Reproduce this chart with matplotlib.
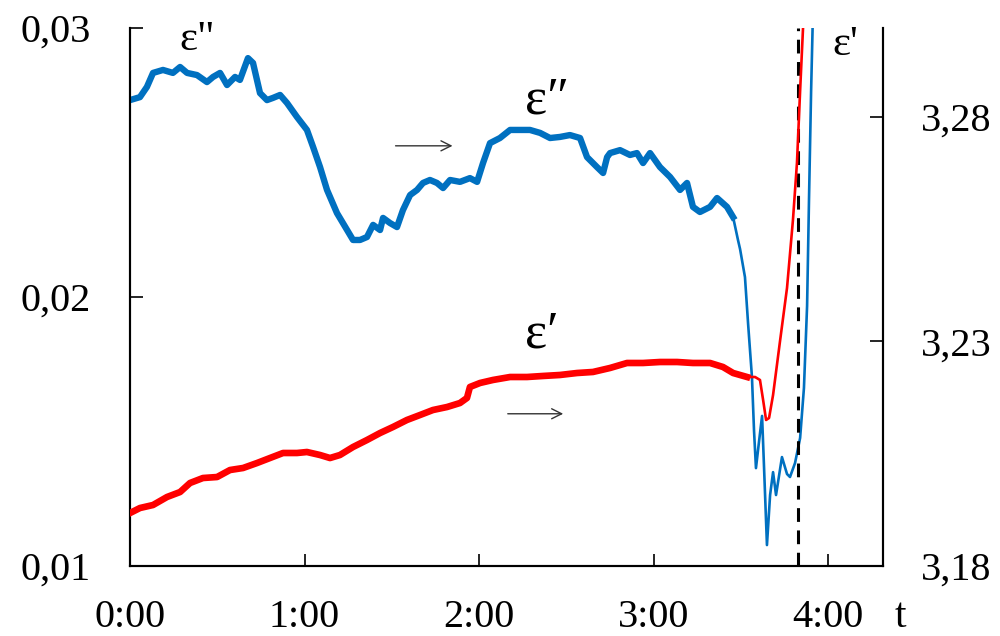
import matplotlib
matplotlib.use("Agg")
import matplotlib.pyplot as plt
import numpy as np

plt.rcParams['font.family'] = ['Liberation Serif', 'DejaVu Serif']

# time in hours
t_loss = [0.000, 0.057, 0.097, 0.132, 0.189, 0.246, 0.287, 0.327, 0.384, 0.441,
          0.476, 0.516, 0.556, 0.602, 0.630, 0.676, 0.705, 0.745, 0.785, 0.819,
          0.860, 0.900, 0.957, 1.014, 1.049, 1.089, 1.129, 1.186, 1.244, 1.278,
          1.318, 1.358, 1.393, 1.433, 1.450, 1.490, 1.530, 1.564, 1.605, 1.645,
          1.679, 1.719, 1.759, 1.794, 1.834, 1.891, 1.948, 1.989, 2.023, 2.063,
          2.120, 2.178, 2.235, 2.292, 2.350, 2.407, 2.464, 2.521, 2.579, 2.619,
          2.676, 2.711, 2.734, 2.751, 2.808, 2.865, 2.905, 2.940, 2.980, 3.037,
          3.095, 3.152, 3.192, 3.226, 3.266, 3.324, 3.364, 3.421, 3.456, 3.484,
          3.496, 3.524, 3.542, 3.564, 3.576, 3.587, 3.605, 3.622, 3.633, 3.650,
          3.668, 3.685, 3.702, 3.736, 3.765, 3.782, 3.811, 3.840, 3.862, 3.880,
          3.891, 3.903, 3.914]
eps_loss = [0.02732, 0.02743, 0.02781, 0.02833, 0.02844, 0.02833, 0.02855, 0.02833, 0.02825, 0.02799,
            0.02818, 0.02833, 0.02788, 0.02818, 0.02807, 0.02888, 0.02870, 0.02758, 0.02732, 0.02740,
            0.02751, 0.02721, 0.02669, 0.02621, 0.02558, 0.02483, 0.02398, 0.02312, 0.02249, 0.02212,
            0.02212, 0.02223, 0.02268, 0.02249, 0.02294, 0.02275, 0.02260, 0.02323, 0.02379, 0.02398,
            0.02424, 0.02435, 0.02424, 0.02405, 0.02435, 0.02428, 0.02442, 0.02428, 0.02498, 0.02572,
            0.02591, 0.02621, 0.02621, 0.02621, 0.02610, 0.02591, 0.02595, 0.02602, 0.02591, 0.02520,
            0.02483, 0.02461, 0.02520, 0.02535, 0.02546, 0.02528, 0.02535, 0.02498, 0.02535, 0.02483,
            0.02446, 0.02398, 0.02424, 0.02335, 0.02316, 0.02335, 0.02368, 0.02335, 0.02297, 0.02212,
            0.02178, 0.02074, 0.01900, 0.01703, 0.01502, 0.01364, 0.01465, 0.01558, 0.01372, 0.01078,
            0.01264, 0.01349, 0.01264, 0.01405, 0.01342, 0.01331, 0.01383, 0.01476, 0.01662, 0.01967,
            0.02364, 0.02766, 0.03067]

t_perm = [0.000, 0.057, 0.132, 0.212, 0.287, 0.344, 0.418, 0.499, 0.573, 0.648,
          0.728, 0.802, 0.877, 0.957, 1.014, 1.089, 1.146, 1.203, 1.278, 1.358,
          1.433, 1.507, 1.587, 1.662, 1.736, 1.817, 1.891, 1.931, 1.948, 2.006,
          2.080, 2.178, 2.275, 2.367, 2.464, 2.562, 2.653, 2.751, 2.848, 2.940,
          3.037, 3.135, 3.226, 3.324, 3.398, 3.456, 3.536, 3.582, 3.610, 3.628,
          3.645, 3.662, 3.685, 3.725, 3.765, 3.799, 3.822, 3.840, 3.857]
eps_perm = [3.19180, 3.19292, 3.19359, 3.19537, 3.19648, 3.19849, 3.19960, 3.19982, 3.20138, 3.20183,
            3.20294, 3.20405, 3.20517, 3.20517, 3.20539, 3.20472, 3.20405, 3.20472, 3.20650, 3.20806,
            3.20962, 3.21096, 3.21252, 3.21363, 3.21474, 3.21541, 3.21630, 3.21742, 3.21987, 3.22076,
            3.22143, 3.22209, 3.22209, 3.22232, 3.22254, 3.22298, 3.22321, 3.22410, 3.22521, 3.22521,
            3.22543, 3.22543, 3.22521, 3.22521, 3.22432, 3.22298, 3.22209, 3.22209, 3.22143, 3.21697,
            3.21252, 3.21296, 3.21808, 3.23011, 3.24192, 3.25706, 3.26976, 3.28579, 3.30004]

x_ticks = [0, 1, 2, 3, 4]
x_labels = ['0:00', '1:00', '2:00', '3:00', '4:00']
left_ticks = [0.01, 0.02, 0.03]
left_labels = ['0,01', '0,02', '0,03']
right_ticks = [3.18, 3.23, 3.28]
right_labels = ['3,18', '3,23', '3,28']
t_event = 3.828
t_noisy_loss = 3.47
t_noisy_perm = 3.55

BLUE = '#0070C0'
RED = '#FF0000'

fig = plt.figure(figsize=(10, 6.36), dpi=100)
ax = fig.add_axes([0.130, 0.110, 0.753, 0.846])
ax2 = ax.twinx()

tl = np.array(t_loss); el = np.array(eps_loss)
tp = np.array(t_perm); ep = np.array(eps_perm)

m = tl <= t_noisy_loss
k = np.argmax(~m)
ax.plot(tl[m], el[m], color=BLUE, lw=4.6, solid_joinstyle='round', zorder=3)
ax.plot(tl[k-1:], el[k-1:], color=BLUE, lw=1.9, zorder=3)

m2 = tp <= t_noisy_perm
k2 = np.argmax(~m2)
ax2.plot(tp[m2], ep[m2], color=RED, lw=4.8, solid_joinstyle='round', zorder=3)
ax2.plot(tp[k2-1:], ep[k2-1:], color=RED, lw=1.9, zorder=3)

ax.axvline(t_event, color='black', lw=2.2, ls=(0, (4.5, 2.8)), zorder=4)

ax.set_xlim(0, 4.315)
ax.set_ylim(0.01, 0.03)
ax2.set_ylim(3.18, 3.2998)

ax.set_xticks(x_ticks)
ax.set_xticklabels(x_labels)
ax.set_yticks(left_ticks)
ax.set_yticklabels(left_labels)
ax2.set_yticks(right_ticks)
ax2.set_yticklabels(right_labels)

for a in (ax, ax2):
    a.spines['top'].set_visible(False)
    for s in a.spines.values():
        s.set_linewidth(1.5)
ax.tick_params(axis='x', direction='in', length=9, width=1.2, labelsize=29, pad=24)
ax.tick_params(axis='y', direction='in', length=9.5, width=1.2, labelsize=29, pad=28)
ax2.tick_params(axis='y', direction='in', length=9.5, width=1.2, labelsize=29, pad=27)

ax.patch.set_visible(False)

# labels
ax.text(0.066, 0.978, 'ε"', transform=ax.transAxes, fontsize=31, ha='left', va='center')
ax.text(0.933, 0.968, "ε'", transform=ax.transAxes, fontsize=31, ha='left', va='center')
ax.text(0.525, 0.866, 'ε\u2033', transform=ax.transAxes, fontsize=38, ha='left', va='center')
ax.text(0.524, 0.430, 'ε\u2032', transform=ax.transAxes, fontsize=38, ha='left', va='center')
fig.text(0.895, 0.031, 't', fontsize=30, ha='left', va='center')

arrow = dict(arrowstyle='->', color='#333333', lw=1.0, mutation_scale=18)
ax.annotate('', xy=(0.432, 0.781), xytext=(0.349, 0.781), xycoords='axes fraction',
            textcoords='axes fraction', arrowprops=arrow)
ax.annotate('', xy=(0.579, 0.283), xytext=(0.498, 0.283), xycoords='axes fraction',
            textcoords='axes fraction', arrowprops=arrow)

fig.savefig('out.png', dpi=100)
